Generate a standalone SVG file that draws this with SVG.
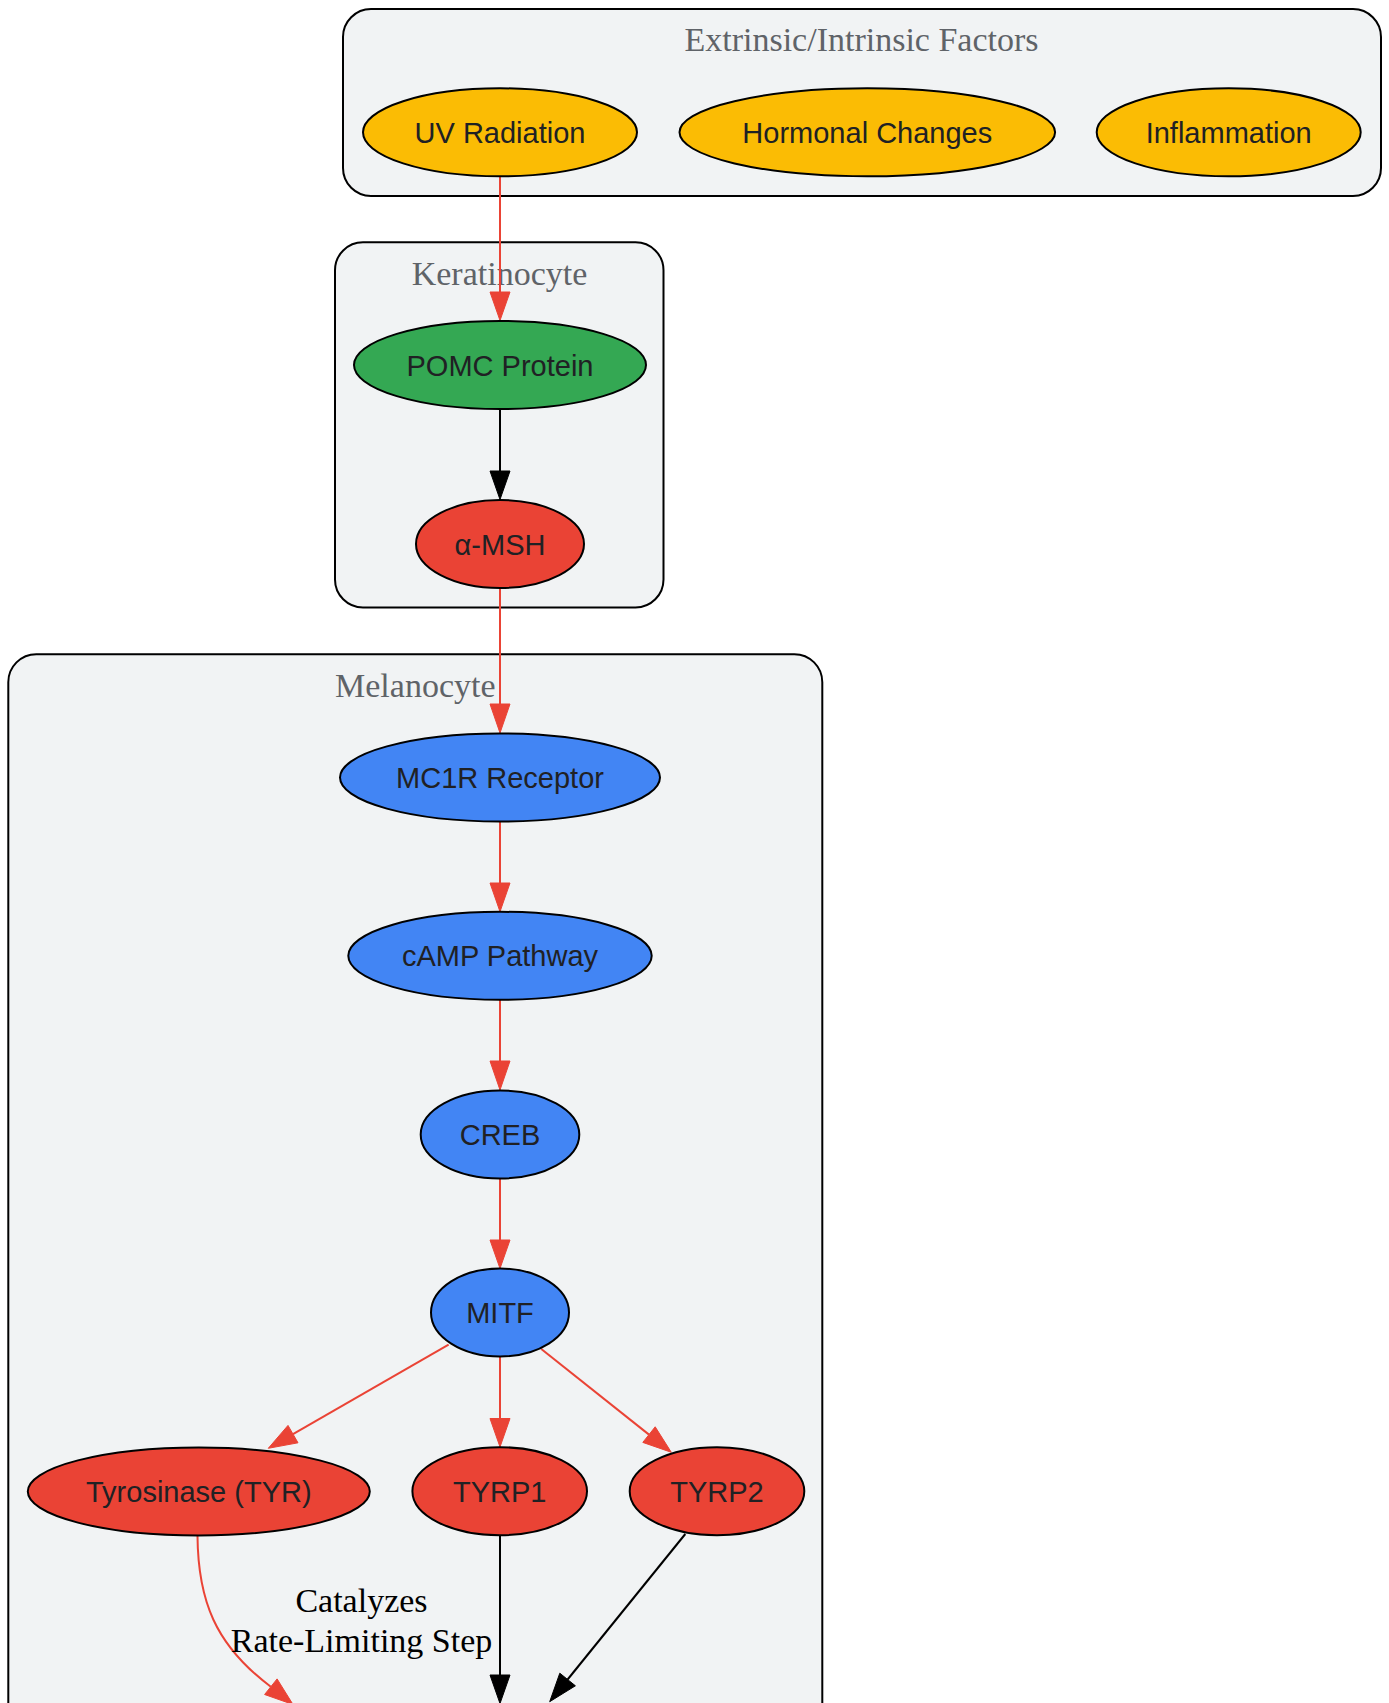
<svg xmlns="http://www.w3.org/2000/svg" width="1389" height="1703" viewBox="0 0 1389 1703">
<defs>
<style>
.cluster{fill:#f1f3f4;stroke:#000;stroke-width:2}
.ctitle{font-family:"Liberation Serif","Times New Roman",serif;font-size:34px;fill:#5f6368;text-anchor:middle}
.node ellipse{stroke:#000;stroke-width:2}
.node text{font-family:"Liberation Sans",Arial,sans-serif;font-size:29px;fill:#202124;text-anchor:middle}
.yellow{fill:#fbbc04}
.green{fill:#34a853}
.red{fill:#ea4335}
.blue{fill:#4285f4}
.er{stroke:#ea4335;stroke-width:2;fill:none}
.eb{stroke:#000;stroke-width:2;fill:none}
.ahr{fill:#ea4335;stroke:#ea4335;stroke-width:1}
.ahb{fill:#000;stroke:#000;stroke-width:1}
.elabel{font-family:"Liberation Serif","Times New Roman",serif;font-size:34px;fill:#000;text-anchor:middle}
</style>
</defs>
<rect x="0" y="0" width="1389" height="1703" fill="#ffffff"/>

<g id="cluster_factors">
<rect class="cluster" x="343" y="9" width="1038" height="187" rx="28" ry="28"/>
<text class="ctitle" x="861.5" y="50.7">Extrinsic/Intrinsic Factors</text>
</g>
<g id="cluster_keratinocyte">
<rect class="cluster" x="335" y="242.3" width="328.5" height="365.2" rx="28" ry="28"/>
<text class="ctitle" x="499.5" y="285">Keratinocyte</text>
</g>
<g id="cluster_melanocyte">
<rect class="cluster" x="8.3" y="654.2" width="814" height="1200" rx="28" ry="28"/>
<text class="ctitle" x="415.3" y="696.7">Melanocyte</text>
</g>

<g id="edges">
<line class="er" x1="500" y1="176" x2="500" y2="293"/>
<polygon class="ahr" points="490,292 510,292 500,320.5"/>
<line class="eb" x1="500" y1="409" x2="500" y2="472"/>
<polygon class="ahb" points="490,471 510,471 500,499.5"/>
<line class="er" x1="500" y1="588" x2="500" y2="705"/>
<polygon class="ahr" points="490,704 510,704 500,733"/>
<line class="er" x1="500" y1="821.7" x2="500" y2="884"/>
<polygon class="ahr" points="490,883 510,883 500,911.7"/>
<line class="er" x1="500" y1="1000" x2="500" y2="1062"/>
<polygon class="ahr" points="490,1061 510,1061 500,1090"/>
<line class="er" x1="500" y1="1179" x2="500" y2="1241"/>
<polygon class="ahr" points="490,1240 510,1240 500,1268.5"/>
<line class="er" x1="448.6" y1="1344.6" x2="293" y2="1434.1"/>
<polygon class="ahr" points="298,1442.8 288,1425.4 268.3,1448.3"/>
<line class="er" x1="500" y1="1356.7" x2="500" y2="1419"/>
<polygon class="ahr" points="490,1418.5 510,1418.5 500,1447"/>
<line class="er" x1="541.3" y1="1349" x2="649" y2="1434.6"/>
<polygon class="ahr" points="642.8,1442.4 655.2,1426.8 671.3,1452.3"/>
<path class="er" d="M197.5,1536 C198,1600 215,1645 270.8,1686.7"/>
<polygon class="ahr" points="264.6,1694.5 277.1,1678.9 293,1704.5"/>
<text class="elabel" x="361.5" y="1611.7">Catalyzes</text>
<text class="elabel" x="361.5" y="1651.7">Rate-Limiting Step</text>
<line class="eb" x1="500" y1="1535.7" x2="500" y2="1676"/>
<polygon class="ahb" points="490,1675 510,1675 500,1703.5"/>
<line class="eb" x1="685.3" y1="1534" x2="567.6" y2="1679.5"/>
<polygon class="ahb" points="575.4,1685.8 559.8,1673.2 549.7,1701.7"/>
</g>

<g id="node_uv" class="node"><ellipse class="yellow" cx="500" cy="132.3" rx="137" ry="44"/><text x="500" y="142.8">UV Radiation</text></g>
<g id="node_hormonal" class="node"><ellipse class="yellow" cx="867.3" cy="132.3" rx="187.8" ry="44"/><text x="867.3" y="142.8">Hormonal Changes</text></g>
<g id="node_inflammation" class="node"><ellipse class="yellow" cx="1228.7" cy="132.3" rx="132" ry="44"/><text x="1228.7" y="142.8">Inflammation</text></g>
<g id="node_pomc" class="node"><ellipse class="green" cx="500" cy="365" rx="146" ry="44"/><text x="500" y="375.5">POMC Protein</text></g>
<g id="node_amsh" class="node"><ellipse class="red" cx="500" cy="544" rx="84" ry="44"/><text x="500" y="554.5">α-MSH</text></g>
<g id="node_mc1r" class="node"><ellipse class="blue" cx="500" cy="777.5" rx="160" ry="44"/><text x="500" y="788">MC1R Receptor</text></g>
<g id="node_camp" class="node"><ellipse class="blue" cx="500" cy="955.8" rx="151.7" ry="44"/><text x="500" y="966.3">cAMP Pathway</text></g>
<g id="node_creb" class="node"><ellipse class="blue" cx="500" cy="1134.5" rx="79.3" ry="44"/><text x="500" y="1145">CREB</text></g>
<g id="node_mitf" class="node"><ellipse class="blue" cx="500" cy="1312.5" rx="69" ry="44"/><text x="500" y="1323">MITF</text></g>
<g id="node_tyr" class="node"><ellipse class="red" cx="198.8" cy="1491.5" rx="171" ry="44"/><text x="198.8" y="1502">Tyrosinase (TYR)</text></g>
<g id="node_tyrp1" class="node"><ellipse class="red" cx="499.7" cy="1491.2" rx="87.3" ry="44"/><text x="499.7" y="1501.7">TYRP1</text></g>
<g id="node_tyrp2" class="node"><ellipse class="red" cx="717" cy="1491.2" rx="87.3" ry="44"/><text x="717" y="1501.7">TYRP2</text></g>
</svg>
